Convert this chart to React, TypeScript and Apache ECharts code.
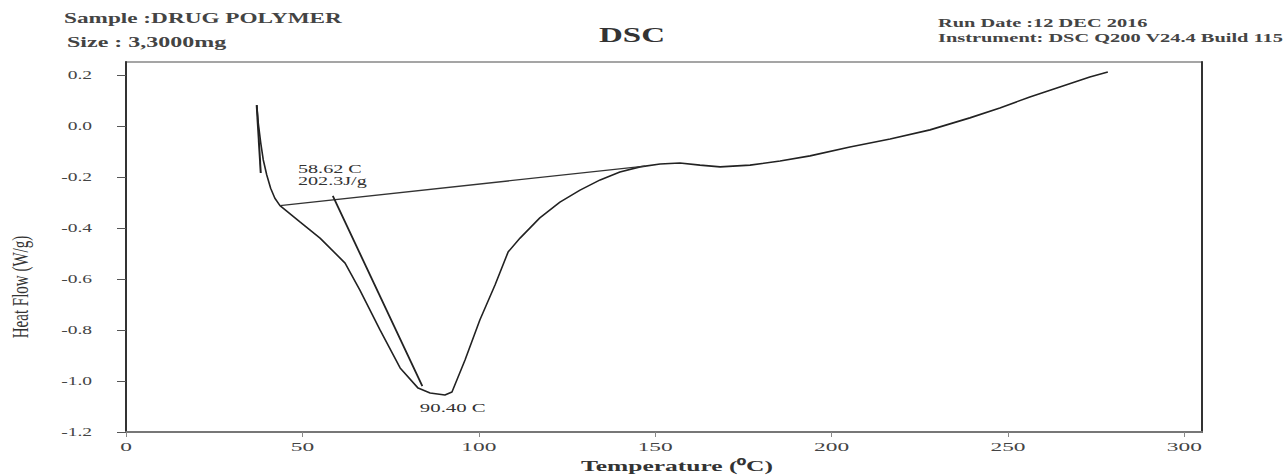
import React, { useEffect, useRef } from "react";
import * as echarts from "echarts";

// Axis ticks
const xTicks = [0, 50, 100, 150, 200, 250, 300];
const yTicks = [-1.2, -1.0, -0.8, -0.6, -0.4, -0.2, 0.0, 0.2];

// DSC heat-flow trace: temperature (°C) and heat flow (W/g)
const tempC = [
  37.05, 37.5, 38.2, 38.9, 39.9, 41.0, 42.2, 43.65, 49.3, 55.0, 62.1, 66.3, 72.0,
  77.7, 82.8, 86.2, 90.4, 92.4, 96.1, 100.3, 104.6, 108.3, 111.7, 117.3, 123.0,
  128.7, 134.4, 140.0, 145.7, 151.4, 157.0, 162.7, 168.4, 176.9, 185.4, 193.9,
  205.2, 216.6, 227.9, 239.2, 247.7, 256.2, 264.7, 273.2, 278.3,
];
const heatFlow = [
  0.081, 0.01, -0.068, -0.133, -0.193, -0.245, -0.284, -0.313, -0.377, -0.44,
  -0.538, -0.644, -0.8, -0.949, -1.028, -1.047, -1.055, -1.043, -0.918, -0.761,
  -0.624, -0.495, -0.44, -0.361, -0.299, -0.252, -0.212, -0.181, -0.161, -0.15,
  -0.146, -0.154, -0.161, -0.154, -0.138, -0.118, -0.083, -0.052, -0.016, 0.031,
  0.07, 0.113, 0.152, 0.191, 0.211,
];

// Short start-up transient at the beginning of the run
const spikeTemp = [37.05, 38.2];
const spikeFlow = [0.081, -0.185];

// Integration baseline and onset tangent
const baselineTemp = [43.65, 147.1];
const baselineFlow = [-0.313, -0.158];
const tangentTemp = [58.62, 84.0];
const tangentFlow = [-0.275, -1.02];

// Analysis results and where they are written (data coordinates)
const onsetText = ["58.62 C", "202.3J/g"];
const peakText = "90.40 C";
const onsetLabelAt = [48.75, -0.193];
const peakLabelAt = [83.3, -1.106];

const X_MIN = 0;
const X_MAX = 305;
const Y_MIN = -1.2;
const Y_MAX = 0.25;

const zip = (xs: number[], ys: number[]) => xs.map((x, i) => [x, ys[i]]);

const serif = '"Liberation Serif", "Times New Roman", serif';

// The printed report uses wide, horizontally stretched lettering
const stretchedText = (
  text: string,
  x: number,
  y: number,
  font: string,
  scaleX: number,
  align: "left" | "center" | "right",
  fill = "#444"
) => ({
  type: "text",
  x,
  y,
  scaleX,
  silent: true,
  style: { text, font, fill, align, verticalAlign: "middle" },
});

export default function App() {
  const ref = useRef<HTMLDivElement>(null);

  useEffect(() => {
    if (!ref.current) return;
    const chart = echarts.init(ref.current, null, { renderer: "svg" });

    chart.setOption({
      animation: false,
      backgroundColor: "#ffffff",
      grid: {
        left: 126,
        right: 86,
        top: 62,
        bottom: 44,
        show: true,
        borderColor: "#888",
        borderWidth: 1.5,
        backgroundColor: "transparent",
      },
      xAxis: {
        type: "value",
        min: X_MIN,
        max: X_MAX,
        interval: 50,
        axisLine: { onZero: false, lineStyle: { color: "#777", width: 2 } },
        axisTick: {
          show: true,
          length: 5,
          customValues: xTicks,
          lineStyle: { color: "#888" },
        },
        axisLabel: { show: false },
        splitLine: { show: false },
      },
      yAxis: [
        {
          type: "value",
          min: Y_MIN,
          max: Y_MAX,
          interval: 0.2,
          axisLine: { show: true, onZero: false, lineStyle: { color: "#333", width: 2 } },
          axisTick: {
            show: true,
            length: 9,
            customValues: yTicks,
            lineStyle: { color: "#555" },
          },
          axisLabel: { show: false },
          splitLine: { show: false },
        },
        {
          type: "value",
          position: "right",
          min: Y_MIN,
          max: Y_MAX,
          axisLine: { show: true, onZero: false, lineStyle: { color: "#333", width: 2 } },
          axisTick: { show: false },
          axisLabel: { show: false },
          splitLine: { show: false },
        },
      ],
      series: [
        {
          type: "line",
          data: zip(tempC, heatFlow),
          symbol: "none",
          lineStyle: { color: "#222", width: 1.6 },
          z: 3,
        },
        {
          type: "line",
          data: zip(spikeTemp, spikeFlow),
          symbol: "none",
          lineStyle: { color: "#222", width: 2 },
        },
        {
          type: "line",
          data: zip(baselineTemp, baselineFlow),
          symbol: "none",
          lineStyle: { color: "#333", width: 1.3 },
        },
        {
          type: "line",
          data: zip(tangentTemp, tangentFlow),
          symbol: "none",
          lineStyle: { color: "#222", width: 1.8 },
        },
      ],
    });

    const toPx = (x: number, y: number) =>
      chart.convertToPixel({ gridIndex: 0 }, [x, y]) as number[];

    const tickFont = `13px ${serif}`;
    const xLabels = xTicks.map((v) => {
      const [px, py] = toPx(v, Y_MIN);
      return stretchedText(String(v), px, py + 15, tickFont, 1.8, "center");
    });
    const yLabels = yTicks.map((v) => {
      const [, py] = toPx(X_MIN, v);
      return stretchedText(v.toFixed(1), 92, py, tickFont, 1.5, "right");
    });

    const annFont = `13px ${serif}`;
    const [ox, oy] = toPx(onsetLabelAt[0], onsetLabelAt[1]);
    const [qx, qy] = toPx(peakLabelAt[0], peakLabelAt[1]);
    const annotations = [
      stretchedText(onsetText[0], ox, oy - 6, annFont, 1.55, "left", "#333"),
      stretchedText(onsetText[1], ox, oy + 6, annFont, 1.55, "left", "#333"),
      stretchedText(peakText, qx, qy, annFont, 1.6, "left", "#333"),
    ];

    chart.setOption({
      graphic: [
        stretchedText("Sample :DRUG POLYMER", 64, 18, `bold 15px ${serif}`, 1.55, "left"),
        stretchedText("Size : 3,3000mg", 67, 42, `bold 15px ${serif}`, 1.6, "left"),
        stretchedText("DSC", 632, 35, `bold 20px ${serif}`, 1.65, "center", "#333"),
        stretchedText("Run Date :12 DEC 2016", 938, 23, `bold 12px ${serif}`, 1.7, "left"),
        stretchedText(
          "Instrument: DSC Q200 V24.4 Build 115",
          938,
          38,
          `bold 12px ${serif}`,
          1.7,
          "left"
        ),
        {
          type: "text",
          x: 20,
          y: 287,
          rotation: Math.PI / 2,
          scaleY: 1.6,
          silent: true,
          style: {
            text: "Heat Flow (W/g)",
            font: `15px ${serif}`,
            fill: "#333",
            align: "center",
            verticalAlign: "middle",
          },
        },
        stretchedText("Temperature (⁰C)", 677, 466, `bold 15px ${serif}`, 1.7, "center", "#333"),
        ...xLabels,
        ...yLabels,
        ...annotations,
      ],
    });

    return () => chart.dispose();
  }, []);

  return (
    <div
      ref={ref}
      style={{ position: "absolute", left: 0, top: 0, width: 1288, height: 476 }}
    />
  );
}
